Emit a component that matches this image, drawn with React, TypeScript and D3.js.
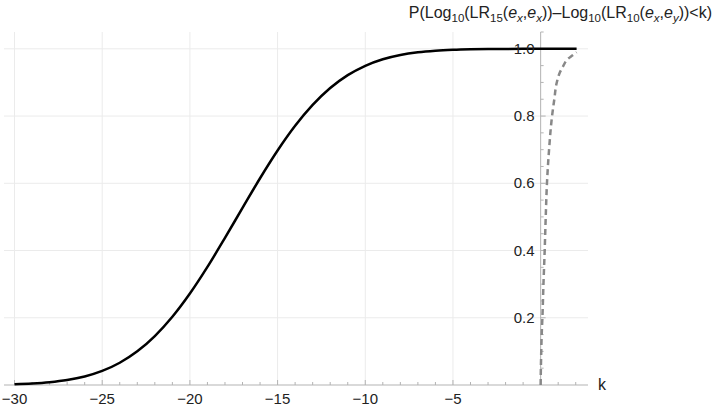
import React from 'react';
import * as d3 from 'd3';

// values
const solidK = [-30, -29, -28, -27, -26, -25, -24, -23, -22, -21, -20, -19, -18, -17, -16, -15, -14, -13, -12, -11, -10, -9, -8, -7, -6, -5, -4, -3, -2, -1, 0, 1, 2.05];
const solidP = [0.0022, 0.0043, 0.0081, 0.0146, 0.0253, 0.0418, 0.0661, 0.1001, 0.1455, 0.2029, 0.272, 0.3512, 0.4376, 0.5268, 0.6149, 0.6974, 0.7709, 0.833, 0.8832, 0.9216, 0.9495, 0.9689, 0.9817, 0.9897, 0.9944, 0.9971, 0.9986, 0.9994, 0.9997, 0.9999, 1.0, 1.0, 1.0];

const dashedK = [0, 0.01, 0.03, 0.06, 0.1, 0.16, 0.23, 0.29, 0.36, 0.48, 0.65, 0.78, 0.92, 1.1, 1.3, 1.55, 1.8, 2.05];
const dashedP = [0, 0.04, 0.09, 0.15, 0.2, 0.3, 0.4, 0.5, 0.6, 0.7, 0.8, 0.85, 0.9, 0.93, 0.95, 0.97, 0.98, 0.99];

const xMajor = [-30, -25, -20, -15, -10, -5];
const xMinor = d3.range(-30, 3, 1);
const yMajor = [0.2, 0.4, 0.6, 0.8, 1.0];
const yMinor = d3.range(0.05, 1.06, 0.05);

const x = d3.scaleLinear().domain([-30.6, 2.7]).range([4, 588]);
const y = d3.scaleLinear().domain([0, 1.05]).range([385, 32]);

const font = '"Liberation Sans", Arial, sans-serif';

const App = () => {
    const solid = d3.line<[number, number]>()
        .x((d) => x(d[0]))
        .y((d) => y(d[1]))
        .curve(d3.curveMonotoneX)(solidK.map((k, i) => [k, solidP[i]]));
    const dashed = d3.line<[number, number]>()
        .x((d) => x(d[0]))
        .y((d) => y(d[1]))
        .curve(d3.curveMonotoneY)(dashedK.map((k, i) => [k, dashedP[i]]));

    const x0 = x(0);
    const y0 = y(0);
    const sub = { fontSize: 11.5 };

    return (
        <svg width={714} height={410} style={{ position: 'absolute', left: 0, top: 0, background: '#fff' }}>
            {/* grid */}
            <g stroke="#ebebeb" strokeWidth={1}>
                {xMajor.map((k) => (
                    <line key={k} x1={x(k)} x2={x(k)} y1={y(1.05)} y2={y0} />
                ))}
                {yMajor.map((p) => (
                    <line key={p} x1={x.range()[0]} x2={x.range()[1]} y1={y(p)} y2={y(p)} />
                ))}
            </g>
            {/* axes */}
            <g stroke="#b3b3b3" strokeWidth={1}>
                <line x1={x.range()[0]} x2={x.range()[1]} y1={y0} y2={y0} />
                <line x1={x0} x2={x0} y1={y(1.05)} y2={y0} />
                {xMinor.map((k) => (
                    <line key={k} x1={x(k)} x2={x(k)} y1={y0} y2={y0 - (k % 5 === 0 ? 5 : 3)} />
                ))}
                {yMinor.map((p, i) => (
                    <line key={i} x1={x0} x2={x0 + ((i + 1) % 4 === 0 ? 5 : 3)} y1={y(p)} y2={y(p)} />
                ))}
            </g>
            {/* curves */}
            <path d={dashed ?? ''} fill="none" stroke="#888" strokeWidth={2.5} strokeDasharray="6,4" />
            <path d={solid ?? ''} fill="none" stroke="#000" strokeWidth={2.5} />
            {/* tick labels */}
            <g fontFamily={font} fontSize={15} fill="#222">
                {xMajor.map((k) => (
                    <text key={k} x={x(k)} y={404} textAnchor="middle">{`\u2212${Math.abs(k)}`}</text>
                ))}
                {yMajor.map((p) => (
                    <text key={p} x={x0 - 6} y={y(p) + 5} textAnchor="end">{p.toFixed(1)}</text>
                ))}
                <text x={598} y={390} fontSize={16}>k</text>
                <text x={712} y={18} fontSize={16} textAnchor="end">
                    P(Log<tspan {...sub} dy={4}>10</tspan>
                    <tspan dy={-4}>(LR</tspan><tspan {...sub} dy={4}>15</tspan>
                    <tspan dy={-4}>(</tspan><tspan fontStyle="italic">e</tspan><tspan {...sub} fontStyle="italic" dy={4}>x</tspan>
                    <tspan dy={-4}>,</tspan><tspan fontStyle="italic">e</tspan><tspan {...sub} fontStyle="italic" dy={4}>x</tspan>
                    <tspan dy={-4}>{'))\u2013Log'}</tspan><tspan {...sub} dy={4}>10</tspan>
                    <tspan dy={-4}>(LR</tspan><tspan {...sub} dy={4}>10</tspan>
                    <tspan dy={-4}>(</tspan><tspan fontStyle="italic">e</tspan><tspan {...sub} fontStyle="italic" dy={4}>x</tspan>
                    <tspan dy={-4}>,</tspan><tspan fontStyle="italic">e</tspan><tspan {...sub} fontStyle="italic" dy={4}>y</tspan>
                    <tspan dy={-4}>{'))<k)'}</tspan>
                </text>
            </g>
        </svg>
    );
};

export default App;
